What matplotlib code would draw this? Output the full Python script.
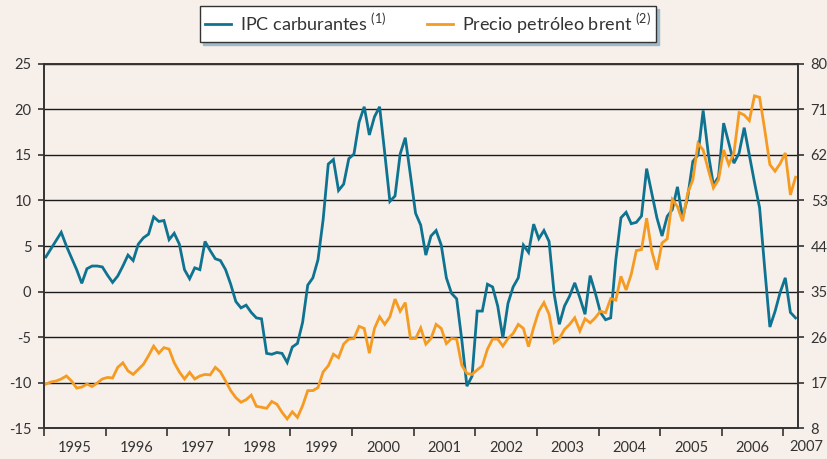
import numpy as np
import matplotlib
matplotlib.use("Agg")
import matplotlib.pyplot as plt
from matplotlib.lines import Line2D

# Monthly series, Jan 1995 .. Mar 2007
ipc_carburantes = [
    3.8, 4.7, 5.6, 6.5, 5.0, 3.7, 2.4, 0.9, 2.5, 2.8, 2.8, 2.7,
    1.8, 1.0, 1.7, 2.8, 4.0, 3.4, 5.2, 5.9, 6.3, 8.2, 7.7, 7.8,
    5.7, 6.4, 5.2, 2.4, 1.4, 2.6, 2.4, 5.5, 4.5, 3.6, 3.4, 2.4,
    0.8, -1.1, -1.8, -1.5, -2.3, -2.9, -3.0, -6.8, -6.9, -6.7, -6.8, -7.8,
    -6.1, -5.7, -3.4, 0.7, 1.5, 3.5, 7.9, 14.0, 14.5, 11.1, 11.8, 14.6,
    15.1, 18.6, 20.3, 17.2, 19.2, 20.3, 15.2, 9.9, 10.5, 15.1, 16.9, 12.8,
    8.6, 7.3, 4.0, 6.1, 6.7, 5.1, 1.5, -0.2, -0.8, -5.3, -10.4, -9.3,
    -2.15, -2.15, 0.8, 0.5, -1.6, -5.1, -1.3, 0.5, 1.5, 5.1, 4.3, 7.4,
    5.8, 6.7, 5.5, -0.3, -3.6, -1.6, -0.5, 0.95, -0.7, -2.5, 1.75, -0.15,
    -2.3, -3.1, -2.9, 3.5, 8.1, 8.7, 7.45, 7.6, 8.3, 13.5, 10.8, 8.1,
    6.1, 8.25, 9.0, 11.5, 8.1, 10.4, 14.3, 15.0, 19.9, 15.2, 11.7, 12.6,
    18.5, 16.3, 14.1, 15.2, 18.0, 15.0, 12.0, 9.2, 2.5, -3.9, -2.2, -0.1,
    1.5, -2.3, -2.9,
]
precio_brent = [
    16.7, 17.1, 17.3, 17.7, 18.3, 17.3, 15.9, 16.1, 16.7, 16.2, 16.9, 17.7,
    18.0, 17.9, 20.0, 20.9, 19.3, 18.6, 19.6, 20.6, 22.3, 24.2, 22.8, 23.9,
    23.6, 20.9, 19.1, 17.7, 19.0, 17.7, 18.3, 18.6, 18.5, 20.0, 19.1, 17.3,
    15.4, 14.0, 13.1, 13.6, 14.5, 12.3, 12.1, 11.9, 13.25, 12.7, 11.1, 9.8,
    11.2, 10.1, 12.4, 15.4, 15.4, 16.0, 19.1, 20.3, 22.6, 21.9, 24.6, 25.6,
    25.7, 28.1, 27.7, 22.8, 27.7, 30.0, 28.5, 30.0, 33.5, 31.1, 32.8, 25.7,
    25.7, 27.8, 24.6, 25.7, 28.5, 27.7, 24.7, 25.7, 25.6, 20.4, 18.8, 18.6,
    19.5, 20.3, 23.6, 25.6, 25.6, 24.2, 25.7, 26.7, 28.5, 27.7, 24.1, 27.9,
    31.1, 32.8, 30.5, 24.9, 25.7, 27.5, 28.5, 29.8, 27.2, 29.6, 28.8, 29.8,
    31.1, 30.8, 33.6, 33.3, 38.0, 35.3, 38.4, 43.1, 43.3, 49.5, 43.0, 39.3,
    44.6, 45.4, 53.2, 51.8, 48.9, 54.5, 57.1, 64.3, 63.0, 59.1, 55.5, 57.1,
    63.0, 60.1, 62.4, 70.4, 69.9, 68.8, 73.7, 73.4, 67.0, 60.1, 58.8, 60.3,
    62.4, 54.1, 57.6,
]
years = list(range(1995, 2008))
left_ticks = [-15, -10, -5, 0, 5, 10, 15, 20, 25]
right_ticks = [8, 17, 26, 35, 44, 53, 62, 71, 80]

BG = "#F7EFEA"
BLUE = "#0E7391"
ORANGE = "#F59B22"
DARK = "#333333"

plt.rcParams["font.family"] = ["Lato", "DejaVu Sans"]
plt.rcParams["mathtext.fontset"] = "custom"
plt.rcParams["mathtext.rm"] = "Lato"
plt.rcParams["axes.unicode_minus"] = False

# month positions as decimal years
t = 1995.03 + np.arange(len(ipc_carburantes)) / 12.0

fig = plt.figure(figsize=(8.27, 4.59), dpi=100, facecolor=BG)
ax = fig.add_axes([0.0532, 0.0675, 0.912, 0.7931], facecolor=BG)
ax2 = ax.twinx()

ax.plot(t, ipc_carburantes, color=BLUE, lw=2.0, solid_joinstyle="miter")
ax2.plot(t, precio_brent, color=ORANGE, lw=2.0, solid_joinstyle="miter")

ax.set_xlim(1995.0, 2007.24)
ax.set_ylim(-15, 25)
ax2.set_ylim(8, 80)
ax.set_yticks(left_ticks)
ax2.set_yticks(right_ticks)
ax.yaxis.grid(True, color="#1a1a1a", lw=1.0)
ax.set_axisbelow(True)

# year boundaries as ticks, labels centred within each year
ax.set_xticks(years)
ax.set_xticklabels([])
ax.set_xticks([y + 0.5 for y in years[:-1]], minor=True)
ax.set_xticklabels([str(y) for y in years[:-1]], minor=True)
ax.tick_params(axis="x", which="major", direction="out", length=6, color=DARK, width=1.2)
ax.tick_params(axis="x", which="minor", length=0, pad=9, labelsize=10.5, labelcolor=DARK)
ax.text(2007.37, -0.033, "2007", transform=ax.get_xaxis_transform(),
        ha="center", va="top", fontsize=10.5, color=DARK)

ax.tick_params(axis="y", direction="out", length=4, color=DARK, width=1.2,
               labelsize=10.5, labelcolor=DARK, pad=5)
ax2.tick_params(axis="y", direction="out", length=4, color=DARK, width=1.2,
                labelsize=10.5, labelcolor=DARK, pad=5)

for a in (ax, ax2):
    for s in a.spines.values():
        s.set_color(DARK)
        s.set_linewidth(1.2)

handles = [Line2D([], [], color=BLUE, lw=2.0), Line2D([], [], color=ORANGE, lw=2.0)]
labels = [r"IPC carburantes $^{\mathregular{(1)}}$", r"Precio petróleo brent $^{\mathregular{(2)}}$"]
fig.legend(handles, labels, loc="center", bbox_to_anchor=(0.5175, 0.948), ncol=2,
           frameon=True, fancybox=False, edgecolor=DARK, facecolor="white", framealpha=1,
           shadow={"color": "#9DBACB", "alpha": 1}, fontsize=13, handlelength=1.4,
           handletextpad=0.5, columnspacing=2.3, borderpad=0.3, labelcolor=DARK)

fig.savefig("out.png", dpi=100, facecolor=BG)
